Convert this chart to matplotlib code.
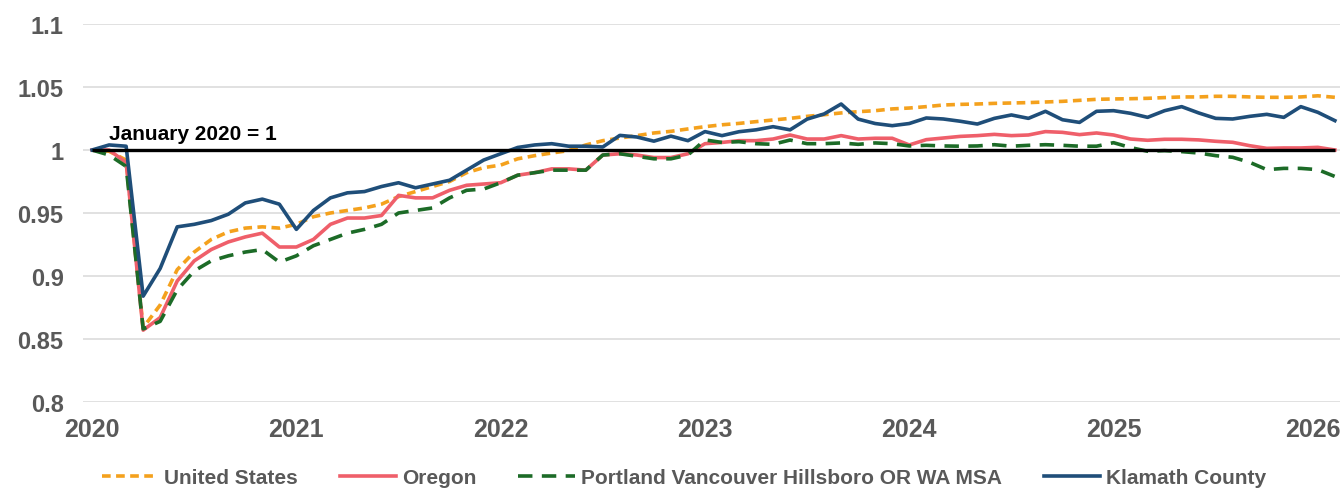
import matplotlib
matplotlib.use("Agg")
import matplotlib.pyplot as plt
import matplotlib.transforms as mtransforms

# Monthly index values, January 2020 = 1 (Jan 2020 .. Feb 2026)
united_states = [
    1.000, 0.999, 0.992, 0.859, 0.877, 0.905, 0.919, 0.929, 0.935, 0.938, 0.939, 0.938,
    0.941, 0.947, 0.950, 0.952, 0.954, 0.957, 0.963, 0.967, 0.971, 0.975, 0.982, 0.986,
    0.988, 0.993, 0.9955, 0.9976, 0.9995, 1.004, 1.0074, 1.0095, 1.0114, 1.0135, 1.0148, 1.0167,
    1.0185, 1.020, 1.0211, 1.0225, 1.0238, 1.0251, 1.0267, 1.028, 1.0294, 1.0304, 1.0312, 1.0326,
    1.0333, 1.0344, 1.0357, 1.0362, 1.0365, 1.037, 1.0373, 1.0376, 1.0381, 1.0386, 1.0394, 1.0402,
    1.0405, 1.0407, 1.041, 1.0416, 1.0421, 1.0421, 1.0426, 1.0426, 1.0421, 1.0418, 1.0418, 1.0421,
    1.043, 1.0418,
]
oregon = [
    1.000, 1.000, 0.990, 0.857, 0.867, 0.896, 0.912, 0.921, 0.927, 0.931, 0.934, 0.923,
    0.923, 0.929, 0.941, 0.946, 0.946, 0.948, 0.964, 0.962, 0.962, 0.968, 0.972, 0.973,
    0.974, 0.980, 0.982, 0.985, 0.985, 0.984, 0.996, 0.997, 0.996, 0.994, 0.994, 0.997,
    1.005, 1.006, 1.0074, 1.0074, 1.0087, 1.0119, 1.0087, 1.0087, 1.0114, 1.0087, 1.0093, 1.0093,
    1.004, 1.0082, 1.0095, 1.0108, 1.0114, 1.0124, 1.0114, 1.0119, 1.0146, 1.014, 1.0122, 1.0135,
    1.0119, 1.0087, 1.0077, 1.0085, 1.0085, 1.008, 1.0069, 1.0061, 1.0034, 1.0013, 1.0016, 1.0016,
    1.0021, 1.000,
]
portland = [
    1.000, 0.996, 0.987, 0.858, 0.864, 0.889, 0.904, 0.912, 0.916, 0.919, 0.921, 0.911,
    0.916, 0.924, 0.929, 0.934, 0.937, 0.941, 0.950, 0.952, 0.954, 0.962, 0.968, 0.969,
    0.974, 0.980, 0.982, 0.984, 0.984, 0.984, 0.996, 0.997, 0.995, 0.993, 0.993, 0.996,
    1.008, 1.006, 1.0066, 1.005, 1.0045, 1.0079, 1.005, 1.005, 1.0056, 1.0045, 1.0056, 1.005,
    1.0032, 1.0037, 1.0032, 1.003, 1.0032, 1.0042, 1.003, 1.0037, 1.0042, 1.0037, 1.003, 1.003,
    1.0058, 1.0019, 0.999, 0.9995, 0.9987, 0.9976, 0.9955, 0.9942, 0.9902, 0.9844, 0.9854, 0.9854,
    0.9844, 0.979,
]
klamath = [
    1.000, 1.004, 1.003, 0.884, 0.906, 0.939, 0.941, 0.944, 0.949, 0.958, 0.961, 0.957,
    0.937, 0.952, 0.962, 0.966, 0.967, 0.971, 0.974, 0.970, 0.973, 0.976, 0.984, 0.992,
    0.997, 1.002, 1.004, 1.005, 1.003, 1.003, 1.0024, 1.0116, 1.0103, 1.007, 1.011, 1.0074,
    1.0146, 1.0114, 1.0145, 1.016, 1.0185, 1.016, 1.0245, 1.0286, 1.0365, 1.0245, 1.021, 1.0193,
    1.021, 1.0254, 1.0246, 1.0228, 1.0206, 1.0251, 1.0278, 1.0251, 1.0307, 1.024, 1.0219, 1.0307,
    1.0312, 1.0291, 1.0259, 1.0312, 1.0344, 1.0294, 1.0251, 1.0246, 1.0267, 1.0283, 1.0259, 1.0344,
    1.0299, 1.0233,
]

years = ["2020", "2021", "2022", "2023", "2024", "2025", "2026"]
y_ticks = [0.8, 0.85, 0.9, 0.95, 1.0, 1.05, 1.1]
y_labels = ["0.8", "0.85", "0.9", "0.95", "1", "1.05", "1.1"]

months = list(range(len(united_states)))

plt.rcParams["font.family"] = ["Liberation Sans", "DejaVu Sans"]
plt.rcParams["font.weight"] = "bold"

fig = plt.figure(figsize=(13.44, 4.89), dpi=100)
ax = fig.add_axes([0.0618, 0.1759, 0.9352, 0.773])

c_us = "#F4A11D"
c_or = "#EF5F6A"
c_pdx = "#1C6B27"
c_kl = "#1F4E79"
lw = 2.6

ax.plot(months, united_states, color=c_us, lw=lw, dashes=(2.4, 1.5), label="United States")
ax.plot(months, oregon, color=c_or, lw=lw, label="Oregon")
ax.plot(months, portland, color=c_pdx, lw=lw, dashes=(4.0, 2.6),
        label="Portland Vancouver Hillsboro OR WA MSA")
ax.plot(months, klamath, color=c_kl, lw=lw, label="Klamath County")

# reference line
ax.hlines(1.0, months[0], months[-1], color="black", lw=2.4, zorder=5)
ax.text(1.0, 1.0055, "January 2020 = 1", fontsize=15, fontweight="bold",
        color="black", ha="left", va="bottom")

ax.set_xlim(-0.53, 73.3)
ax.set_ylim(0.8, 1.1)
ax.set_xticks([12 * k for k in range(len(years))])
ax.set_xticklabels(years)
ax.set_yticks(y_ticks)
ax.set_yticklabels(y_labels)
ax.tick_params(axis="both", length=0, labelcolor="#595959")
ax.tick_params(axis="y", pad=14, labelsize=17)
ax.tick_params(axis="x", pad=11, labelsize=18)
for lab in ax.get_xticklabels() + ax.get_yticklabels():
    lab.set_fontweight("bold")
# keep the last year label inside the figure
last = ax.get_xticklabels()[-1]
last.set_transform(last.get_transform() + mtransforms.ScaledTranslation(-5 / 100, 0, fig.dpi_scale_trans))

ax.grid(axis="y", color="#D9D9D9", lw=1.1)
ax.set_axisbelow(True)
for s in ax.spines.values():
    s.set_visible(False)

fig.legend(loc="lower center", bbox_to_anchor=(0.509, -0.036), ncol=4, frameon=False,
           handlelength=2.7, handletextpad=0.3, columnspacing=2.0,
           labelcolor="#595959", prop={"weight": "bold", "size": 15})

fig.savefig("out.png", dpi=100)
